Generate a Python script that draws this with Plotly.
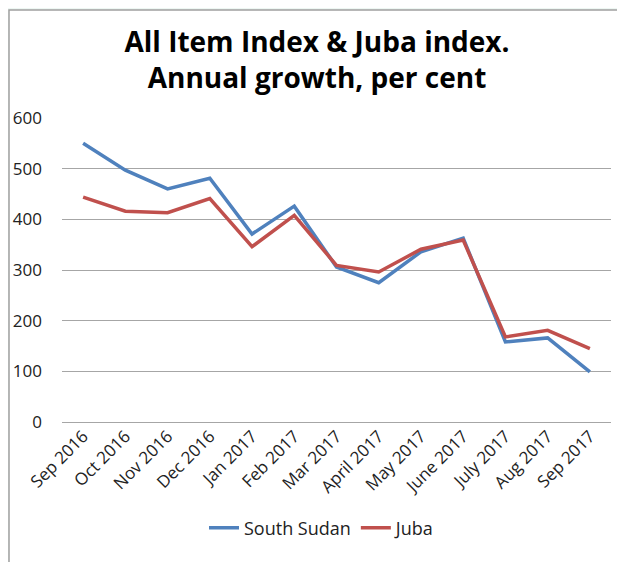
import plotly.graph_objects as go

months = ["Sep 2016", "Oct 2016", "Nov 2016", "Dec 2016", "Jan 2017", "Feb 2017",
          "Mar 2017", "April 2017", "May 2017", "June 2017", "July 2017", "Aug 2017", "Sep 2017"]
south_sudan = [550, 497, 460, 481, 371, 426, 306, 275, 336, 363, 158, 166, 99]
juba = [444, 416, 413, 441, 346, 408, 309, 296, 341, 359, 168, 181, 145]
y_ticks = [0, 100, 200, 300, 400, 500, 600]

# page has an 8px body margin; work in screen pixels and convert
OFF = 8
W, H = 625 - OFF, 562 - OFF
plot_left, plot_right, plot_top, plot_bottom = 62, 611, 118, 422
L = plot_left - OFF
R = (625 - plot_right)
T = plot_top - OFF
B = 562 - plot_bottom
pw, ph = W - L - R, H - T - B

def px_x(p):
    return (p - OFF - L) / pw

def px_y(p):
    return (H - B - (p - OFF)) / ph

fig = go.Figure()
fig.add_trace(go.Scatter(x=months, y=south_sudan, mode="lines", name="South Sudan",
                         line=dict(color="#4F81BD", width=3.5)))
fig.add_trace(go.Scatter(x=months, y=juba, mode="lines", name="Juba",
                         line=dict(color="#C0504D", width=3.5)))

fig.add_shape(type="rect", xref="paper", yref="paper",
              x0=px_x(9), x1=px_x(640), y0=px_y(570), y1=px_y(10),
              fillcolor="white", line=dict(color="#a0a0a0", width=1.5), layer="below")

fig.update_layout(
    width=W, height=H,
    margin=dict(l=L, r=R, t=T, b=B, autoexpand=False),
    paper_bgcolor="#eef7f3",
    plot_bgcolor="rgba(0,0,0,0)",
    font=dict(family="Open Sans, Liberation Sans, sans-serif", color="#222222"),
    title=dict(text="<b>All Item Index & Juba index.<br>Annual growth, per cent</b>",
               x=px_x(317), xref="paper", xanchor="center",
               y=1 - (52 - OFF) / H, yanchor="middle",
               font=dict(size=28, color="#000000", family="Open Sans, Liberation Sans, sans-serif")),
    showlegend=True,
    legend=dict(orientation="h", x=px_x(322), xanchor="center", y=px_y(528), yanchor="middle",
                font=dict(size=18, color="#222222"), bgcolor="rgba(0,0,0,0)"),
)
fig.update_xaxes(type="category", range=[-0.5, 12.5], tickangle=-45,
                 showgrid=False, showline=False, ticks="", automargin=False,
                 tickfont=dict(size=17, color="#222222"))
fig.update_yaxes(range=[0, 600], tickvals=y_ticks, showgrid=True, gridcolor="#a6a6a6",
                 gridwidth=1.3, zeroline=True, zerolinecolor="#a6a6a6", zerolinewidth=1.3,
                 showline=False, ticks="", ticklabelstandoff=19, automargin=False,
                 tickfont=dict(size=17, color="#222222"))

fig.write_html("out.html")
